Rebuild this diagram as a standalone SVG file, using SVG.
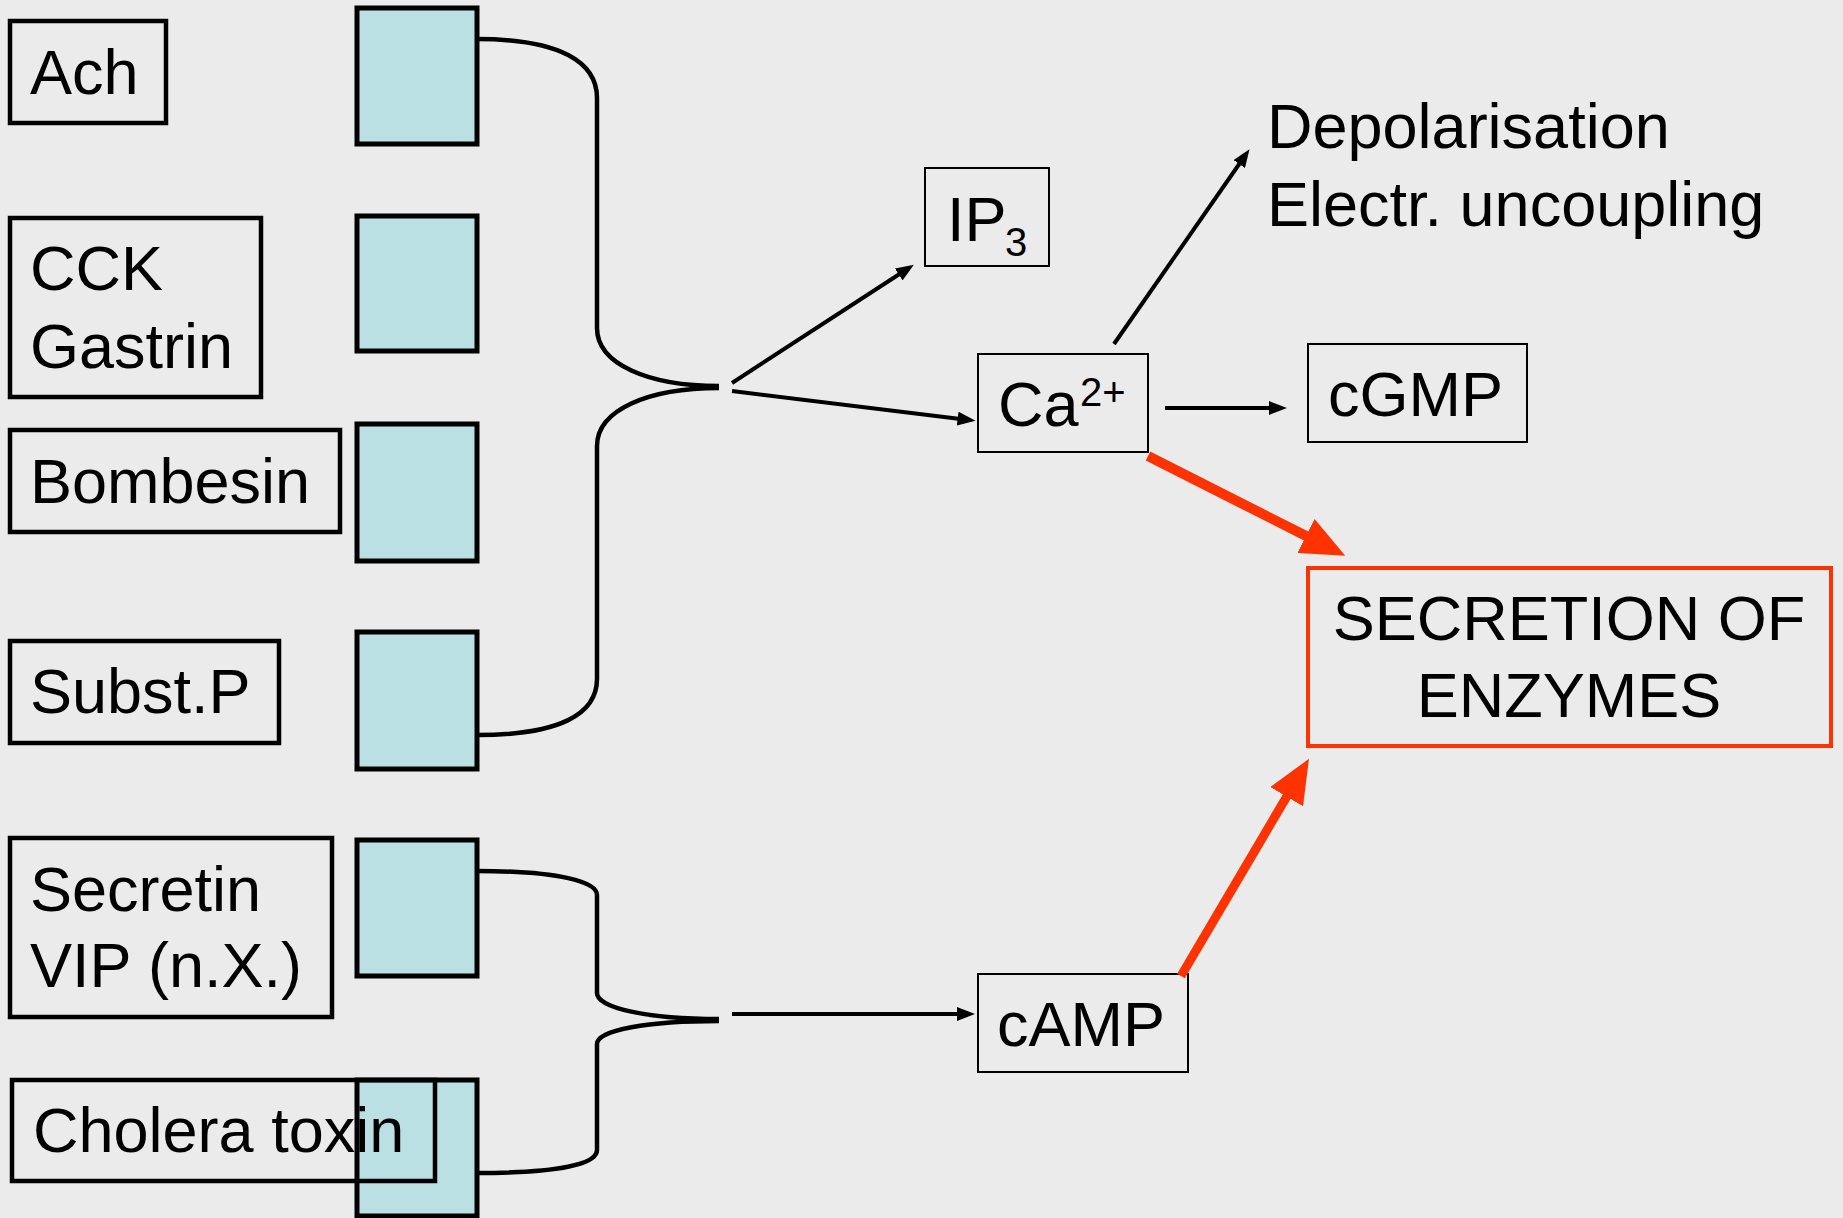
<svg xmlns="http://www.w3.org/2000/svg" width="1843" height="1218" viewBox="0 0 1843 1218">
<style>
text{font-family:"Liberation Sans",Arial,sans-serif;font-size:63px;fill:#000}
.lbl{fill:none;stroke:#000;stroke-width:4.5}
.rec{fill:#BAE0E3;stroke:#000;stroke-width:5}
.thin{fill:none;stroke:#000;stroke-width:2}
.br{fill:none;stroke:#000;stroke-width:4.5}
.ar{fill:none;stroke:#000;stroke-width:4}
.red{fill:none;stroke:#FF3300}
.small{font-size:40px}
</style>
<defs>
<marker id="ah" markerUnits="userSpaceOnUse" markerWidth="18" markerHeight="14" refX="11" refY="7" orient="auto">
<path d="M0,0 L18,7 L0,14 z" fill="#000"/>
</marker>
<marker id="rh" markerUnits="userSpaceOnUse" markerWidth="44" markerHeight="38" refX="4" refY="19" orient="auto">
<path d="M0,0 L44,19 L0,38 z" fill="#FF3300"/>
</marker>
</defs>
<rect width="1843" height="1218" fill="#EBEBEB"/>

<g id="receptors">
<rect id="r1" class="rec" x="357" y="8" width="120" height="136"/>
<rect id="r2" class="rec" x="357" y="216" width="120" height="135"/>
<rect id="r3" class="rec" x="357" y="424" width="120" height="137"/>
<rect id="r4" class="rec" x="357" y="632" width="120" height="137"/>
<rect id="r5" class="rec" x="357" y="840" width="120" height="136"/>
<rect id="r6" class="rec" x="357" y="1080" width="120" height="136"/>
</g>

<g id="ach"><rect class="lbl" x="10" y="21" width="156" height="102"/><text x="30" y="94">Ach</text></g>
<g id="cck"><rect class="lbl" x="10" y="218" width="251" height="179"/><text x="30" y="290">CCK</text><text x="30" y="368">Gastrin</text></g>
<g id="bombesin"><rect class="lbl" x="10" y="430" width="330" height="102"/><text x="30" y="503">Bombesin</text></g>
<g id="substp"><rect class="lbl" x="10" y="641" width="269" height="102"/><text x="30" y="713">Subst.P</text></g>
<g id="secretin"><rect class="lbl" x="10" y="838" width="322" height="179"/><text x="30" y="911">Secretin</text><text x="30" y="987">VIP (n.X.)</text></g>
<g id="cholera"><rect class="lbl" x="12" y="1080" width="423" height="101"/><text x="33" y="1152">Cholera toxin</text></g>

<g id="ip3"><rect class="thin" x="925" y="168" width="124" height="98"/><text x="947" y="241">IP</text><text class="small" x="1005" y="256">3</text></g>
<g id="ca"><rect class="thin" x="978" y="354" width="170" height="98"/><text x="998" y="426">Ca</text><text class="small" x="1080" y="406">2+</text></g>
<g id="cgmp"><rect class="thin" x="1308" y="344" width="219" height="98"/><text x="1328" y="416">cGMP</text></g>
<g id="camp"><rect class="thin" x="978" y="974" width="210" height="98"/><text x="997" y="1046">cAMP</text></g>
<g id="depol"><text x="1267" y="148">Depolarisation</text><text x="1267" y="226">Electr. uncoupling</text></g>
<g id="secretion"><rect class="red" stroke-width="4" x="1308" y="568" width="523" height="178"/><text x="1569" y="640" text-anchor="middle">SECRETION OF</text><text x="1569" y="717" text-anchor="middle">ENZYMES</text></g>

<g id="connectors">
<path class="br" d="M477,39 C560,39 597,62 597,98 L597,328 C597,364 648,386 719,386"/>
<path class="br" d="M719,388 C648,388 597,410 597,446 L597,679 C597,714 560,735 477,735"/>
<path class="br" d="M477,871 C560,871 597,882 597,895 L597,993 C597,1008 648,1019 719,1019"/>
<path class="br" d="M719,1021 C648,1021 597,1030 597,1044 L597,1150 C597,1164 560,1173 477,1173"/>
<line class="ar" x1="732" y1="383" x2="908" y2="268.5" marker-end="url(#ah)"/>
<line class="ar" x1="732" y1="391" x2="968.6" y2="420" marker-end="url(#ah)"/>
<line class="ar" x1="1114" y1="344" x2="1245.5" y2="155" marker-end="url(#ah)"/>
<line class="ar" x1="1165" y1="408" x2="1280" y2="408" marker-end="url(#ah)"/>
<line class="ar" x1="732" y1="1014" x2="968" y2="1014" marker-end="url(#ah)"/>
<line class="red" stroke-width="10" x1="1148" y1="456" x2="1309.6" y2="537.8" marker-end="url(#rh)"/>
<line class="red" stroke-width="9" x1="1181" y1="976" x2="1288.7" y2="793.2" marker-end="url(#rh)"/>
</g>
</svg>
